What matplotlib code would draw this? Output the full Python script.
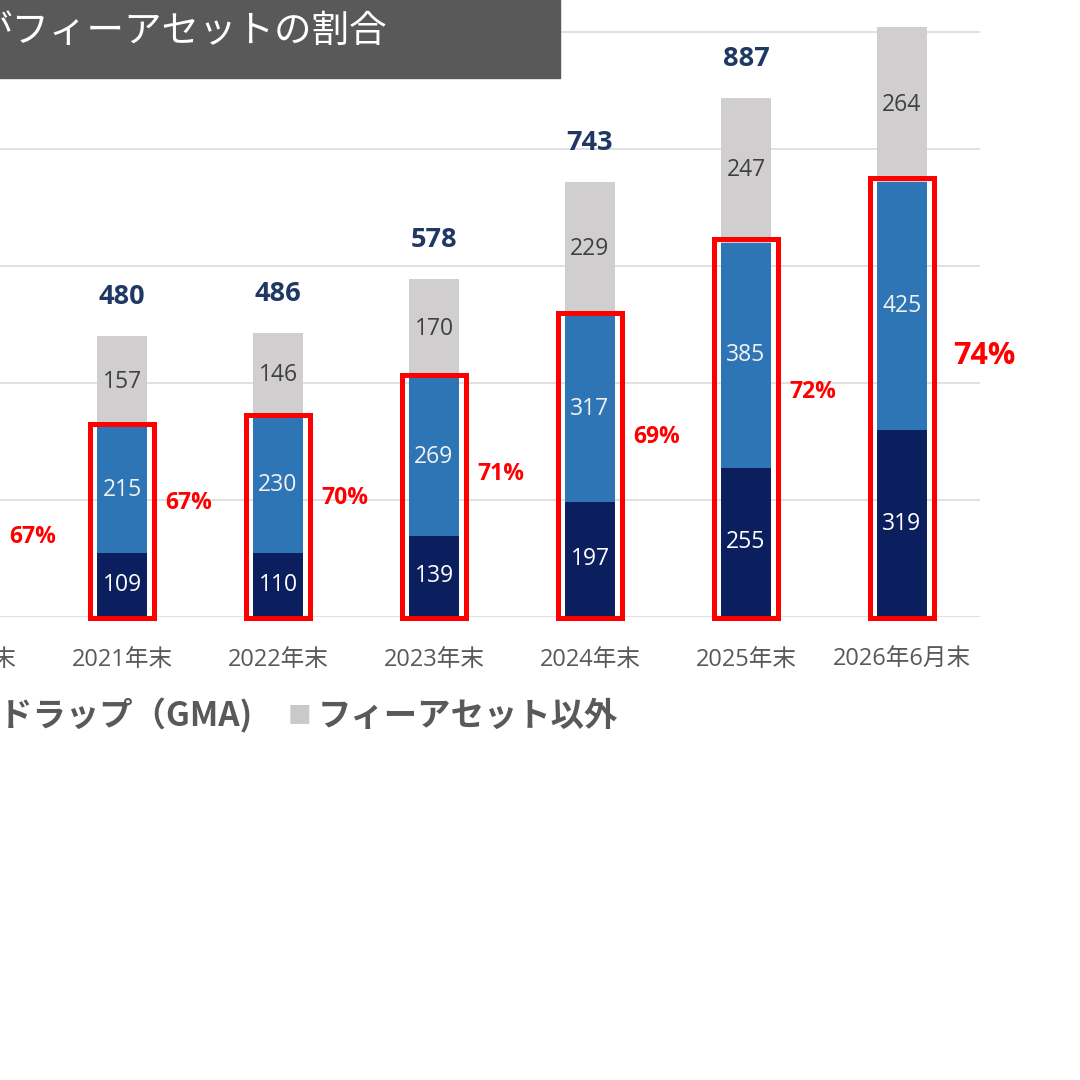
import matplotlib.pyplot as plt
import numpy as np
from matplotlib.patches import Rectangle

plt.rcParams['font.family'] = ['Noto Sans CJK JP', 'DejaVu Sans']
NUM = ['Open Sans', 'Noto Sans CJK JP', 'DejaVu Sans']

years = ["2020年末", "2021年末", "2022年末", "2023年末", "2024年末", "2025年末", "2026年6月末"]
# 2020 lies off the left edge of the picture; only its share label is visible
direct = np.array([np.nan, 109, 110, 139, 197, 255, 319])
gma = np.array([np.nan, 215, 230, 269, 317, 385, 425])
other = np.array([np.nan, 157, 146, 170, 229, 247, 264])
totals = [np.nan, 480, 486, 578, 743, 887, 1008]
shares = ["67%", "67%", "70%", "71%", "69%", "72%", "74%"]

navy = "#0B1F5E"
blue = "#2E75B6"
gray = "#D0CECE"
red = "#FF0000"
text_gray = "#595959"

fig = plt.figure(figsize=(10.8, 10.8), dpi=100)
ax = fig.add_axes([-0.1037, 0.4287, 1.0111, 0.5958])

x = np.arange(len(years))
w = 0.32
ax.bar(x, direct, w, color=navy, zorder=3)
ax.bar(x, gma, w, bottom=direct, color=blue, zorder=3)
ax.bar(x, other, w, bottom=direct + gma, color=gray, zorder=3)

fee = direct + gma
share_y = np.where(np.isnan(fee), 137, 0.6 * fee)

for i in range(len(years)):
    last = i == len(years) - 1
    ax.text(i + (0.53 if last else 0.43), share_y[i], shares[i], color=red, family=NUM,
            fontsize=22 if last else 16.5, fontweight='bold', ha='center', va='center')
    if np.isnan(fee[i]):
        continue
    ax.text(i, direct[i] / 2, str(int(direct[i])), color='white', fontsize=16.5,
            family=NUM, ha='center', va='center', zorder=5)
    ax.text(i, direct[i] + gma[i] / 2, str(int(gma[i])), color='#F2F2F2', fontsize=16.5,
            family=NUM, ha='center', va='center', zorder=5)
    ax.text(i, fee[i] + other[i] / 2, str(int(other[i])), color='#404040', fontsize=16.5,
            family=NUM, ha='center', va='center', zorder=5)
    ax.annotate(str(int(totals[i])), (i, fee[i] + other[i]), xytext=(0, 28),
                textcoords='offset points', ha='center', va='center', family=NUM,
                color='#1F3864', fontsize=19.5, fontweight='bold', annotation_clip=False)
    # red frame round the fee-asset part of each bar
    ax.add_patch(Rectangle((i - 0.205, -2), 0.41, fee[i] + 8, fill=False,
                           edgecolor=red, lw=3.6, zorder=4, clip_on=False))

ax.set_xlim(-0.5, 6.5)
ax.set_ylim(0, 1100)
ax.set_yticks(range(0, 1001, 200))
ax.yaxis.grid(True, color='#D9D9D9', lw=1.1)
ax.set_axisbelow(True)
ax.set_xticks(x)
ax.set_xticklabels(years, fontsize=17, color=text_gray, family=NUM)
ax.tick_params(axis='x', length=0, pad=22)
ax.tick_params(axis='y', left=False, labelleft=False)
for s in ax.spines.values():
    s.set_visible(False)

# title banner
fig.patches.append(Rectangle((0, 1 - 78 / 1080), 560 / 1080, 78 / 1080,
                             transform=fig.transFigure, color='#595959', zorder=0))
fig.text(387 / 1080, 1 - 31 / 1080, "がフィーアセットの割合", color='white',
         fontsize=27, ha='right', va='center')

# legend drawn by hand, the left part is cut off by the picture edge
leg_y = 1 - 716 / 1080
t1 = fig.text(-100 / 1080, leg_y, "ファンドラップ（GMA)", color=text_gray, fontsize=24,
              fontweight='bold', ha='left', va='center')
t2 = fig.text(318 / 1080, leg_y, "フィーアセット以外", color=text_gray, fontsize=24,
              fontweight='bold', ha='left', va='center')
for t, c in [(t1, blue), (t2, "#C9C9C9")]:
    ax.annotate("■", xy=(0, 0.5), xycoords=t, xytext=(-5, 0), textcoords='offset points',
                ha='right', va='center', color=c, fontsize=17, annotation_clip=False)

plt.savefig("out.png", dpi=100)
